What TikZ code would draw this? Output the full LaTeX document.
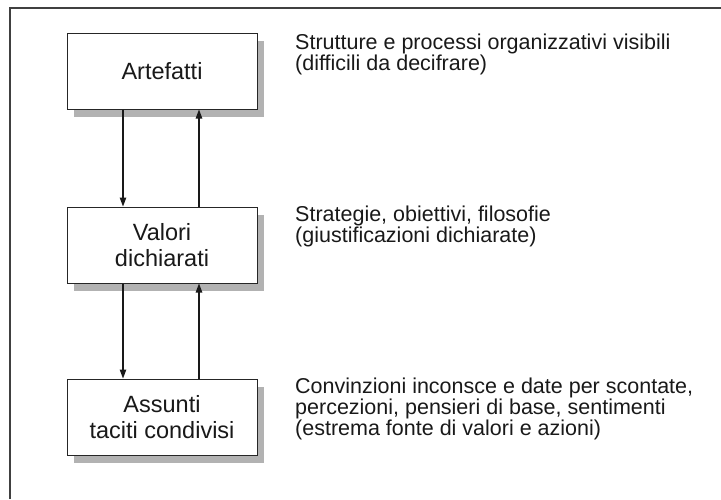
\documentclass[tikz,border=0pt]{standalone}
\usepackage{fontspec}
\setmainfont{Liberation Sans}
\usetikzlibrary{shadows,arrows.meta}
\begin{document}
\begin{tikzpicture}[x=1pt,y=-1pt,
  level/.style={draw=black!85, line width=1pt, fill=white, minimum width=190pt, minimum height=76pt,
    align=center, inner sep=0pt, font=\fontsize{23.5}{26}\selectfont, text=black!90,
    drop shadow={shadow xshift=7pt, shadow yshift=-8pt, fill=black!30, opacity=1}},
  desc/.style={anchor=north west, inner sep=0pt, align=left, font=\fontsize{21.5}{21.2}\selectfont, text=black!90},
  link/.style={line width=1.1pt, black!90, -{Triangle[length=9pt,width=6.5pt]}}]
\useasboundingbox (0,0) rectangle (721,499);
\draw[line width=1.6pt, black!75] (10,499) -- (10,8) -- (721,8);
\node[level] (a) at (162,71) {Artefatti};
\node[level] (v) at (162,245) {Valori\\dichiarati};
\node[level] (s) at (162,417) {Assunti\\taciti condivisi};
\draw[link] ([xshift=-39pt]a.south) -- ([xshift=-39pt]v.north);
\draw[link] ([xshift=37pt]v.north) -- ([xshift=37pt]a.south);
\draw[link] ([xshift=-39pt]v.south) -- ([xshift=-39pt]s.north);
\draw[link] ([xshift=37pt]s.north) -- ([xshift=37pt]v.south);
\node[desc] (da) at (295,33.3) {Strutture e processi organizzativi visibili\\(difficili da decifrare)};
\node[desc] (dv) at (295,205.3) {Strategie, obiettivi, filosofie\\(giustificazioni dichiarate)};
\node[desc] (ds) at (295,377.3) {Convinzioni inconsce e date per scontate,\\percezioni, pensieri di base, sentimenti\\(estrema fonte di valori e azioni)};
\end{tikzpicture}
\end{document}
